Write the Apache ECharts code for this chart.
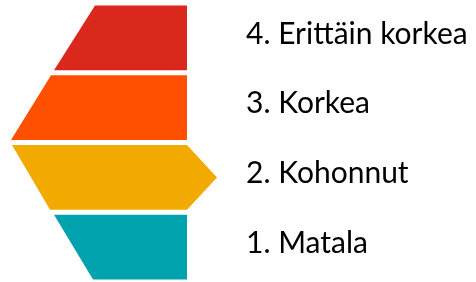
<!DOCTYPE html>
<html>
<head>
<meta charset="utf-8">
<script src="https://cdn.jsdelivr.net/npm/echarts@6/dist/echarts.min.js"></script>
<style>
    html, body { margin: 0; padding: 0; background: #fff; }
    #chart { width: 476px; height: 282px; }
</style>
</head>
<body>
<div id="chart"></div>
<script>
// tasot alhaalta ylös
var levels = ['1. Matala', '2. Kohonnut', '3. Korkea', '4. Erittäin korkea'];
var colors = ['#00A3AD', '#F2A900', '#FE5000', '#DA291C'];
// muodon reunat x-akselin yksiköissä
var leftTop = [54, 12, 51, 95];
var leftBottom = [93, 50, 11, 54];
var rightEdge = [187, 187, 187, 187];
var tipX = [187, 217, 187, 187]; // nuolen kärki vain tasolla 2
var labelX = 246;

var chart = echarts.init(document.getElementById('chart'));

var data = levels.map(function(name, i) {
    return [i, leftTop[i], leftBottom[i], rightEdge[i], tipX[i]];
});

var option = {
    animation: false,
    grid: { left: 0, right: 0, top: 3, height: 279 },
    xAxis: { type: 'value', min: 0, max: 476, show: false },
    yAxis: { type: 'category', data: levels, show: false },
    series: [{
        type: 'custom',
        data: data,
        encode: { x: [1, 2, 3, 4], y: 0 },
        renderItem: function(params, api) {
            var idx = api.value(0);
            var band = api.size([0, 1])[1];
            var h = band - 5;
            var cy = api.coord([0, idx])[1];
            var top = cy - h / 2, bottom = cy + h / 2;
            var xTL = api.coord([api.value(1), idx])[0];
            var xBL = api.coord([api.value(2), idx])[0];
            var xR = api.coord([api.value(3), idx])[0];
            var xTip = api.coord([api.value(4), idx])[0];
            var pts = [[xTL, top], [xR, top]];
            if (xTip > xR) pts.push([xTip, cy]);
            pts.push([xR, bottom], [xBL, bottom]);
            return {
                type: 'group',
                children: [{
                    type: 'polygon',
                    shape: { points: pts },
                    style: { fill: colors[idx] }
                }, {
                    type: 'text',
                    x: api.coord([labelX, idx])[0],
                    y: cy - 4,
                    style: {
                        text: levels[idx],
                        fill: '#000',
                        font: '30px Lato',
                        verticalAlign: 'middle',
                        align: 'left'
                    }
                }]
            };
        }
    }]
};

chart.setOption(option);
</script>
</body>
</html>
